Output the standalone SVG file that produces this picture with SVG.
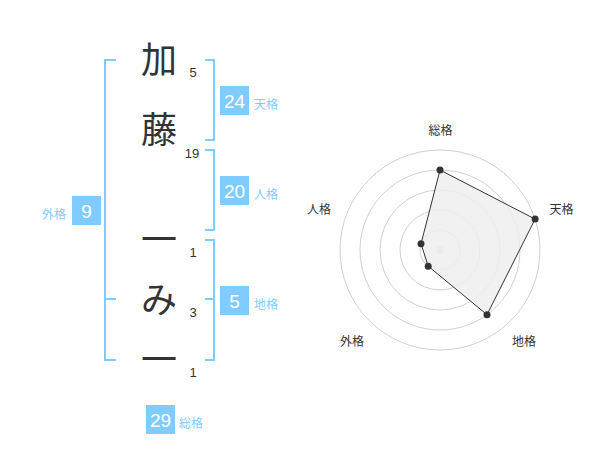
<svg xmlns="http://www.w3.org/2000/svg" width="600" height="470" viewBox="0 0 600 470">
<style>
.br{fill:none;stroke:#80ccff;stroke-width:2}
.box{fill:#80ccff}
.bn{font-family:"Liberation Sans",Arial,sans-serif;font-size:19px;fill:#fff;text-anchor:middle}
.bl{font-family:"Noto Sans CJK JP","Noto Sans",sans-serif;font-size:12px;fill:#80ccff}
.ch{font-family:"Noto Sans CJK JP",sans-serif;font-size:36px;fill:#333;text-anchor:middle}
.sn{font-family:"Liberation Sans",Arial,sans-serif;font-size:13px;fill:#333;text-anchor:middle}
.rl{font-family:"Noto Sans CJK JP","Noto Sans",sans-serif;font-size:12px;fill:#333;text-anchor:middle}
.ring{fill:none;stroke:#d0d0d0;stroke-width:1}
.pt{fill:#333}
</style>
<rect width="600" height="470" fill="#fff"/>
<g id="connectors">
<path class="br" d="M116,60 H105 V360 H116 M105,299 H116"/>
<path class="br" d="M205,60 H214 V140 H205"/>
<path class="br" d="M205,150 H214 V230 H205"/>
<path class="br" d="M205,240 H214 V360 H205 M205,299 H214"/>
</g>
<g id="char-ka"><text class="ch" x="159" y="73">加</text><text class="sn" x="193" y="77">5</text></g>
<g id="char-tou"><text class="ch" x="159" y="143">藤</text><text class="sn" x="192" y="158">19</text></g>
<g id="char-ichi1"><text class="ch" x="159" y="253">一</text><text class="sn" x="193" y="257">1</text></g>
<g id="char-mi"><text class="ch" x="159" y="313">み</text><text class="sn" x="193" y="317">3</text></g>
<g id="char-ichi2"><text class="ch" x="159" y="373">一</text><text class="sn" x="193" y="377">1</text></g>
<g id="tenkaku"><rect class="box" x="220" y="86" width="29" height="29"/><text class="bn" x="234.5" y="108">24</text><text class="bl" x="254" y="109">天格</text></g>
<g id="jinkaku"><rect class="box" x="220" y="176" width="29" height="29"/><text class="bn" x="234.5" y="198">20</text><text class="bl" x="254" y="199">人格</text></g>
<g id="chikaku"><rect class="box" x="220" y="286" width="29" height="29"/><text class="bn" x="234.5" y="308">5</text><text class="bl" x="254" y="309">地格</text></g>
<g id="gaikaku"><rect class="box" x="72" y="196" width="29" height="29"/><text class="bn" x="86.5" y="218">9</text><text class="bl" x="66" y="219" text-anchor="end">外格</text></g>
<g id="soukaku"><rect class="box" x="146" y="405" width="29" height="29"/><text class="bn" x="160.5" y="427">29</text><text class="bl" x="179" y="428">総格</text></g>
<g id="radar">
<circle class="ring" cx="440" cy="250" r="20"/>
<circle class="ring" cx="440" cy="250" r="40"/>
<circle class="ring" cx="440" cy="250" r="60"/>
<circle class="ring" cx="440" cy="250" r="80"/>
<circle class="ring" cx="440" cy="250" r="100"/>
<circle cx="440" cy="250" r="3.5" fill="#ccc"/>
<polygon points="440,170 535.1,219.1 487,314.7 428.2,266.2 421,243.8" fill="#eeeeee" fill-opacity="0.85" stroke="#333" stroke-width="1"/>
<circle class="pt" cx="440" cy="170" r="3.5"/>
<circle class="pt" cx="535.1" cy="219.1" r="3.5"/>
<circle class="pt" cx="487" cy="314.7" r="3.5"/>
<circle class="pt" cx="428.2" cy="266.2" r="3.5"/>
<circle class="pt" cx="421" cy="243.8" r="3.5"/>
<text class="rl" x="440.5" y="134.5">総格</text>
<text class="rl" x="561.5" y="213.5">天格</text>
<text class="rl" x="524" y="346">地格</text>
<text class="rl" x="352" y="346">外格</text>
<text class="rl" x="319" y="213.5">人格</text>
</g>
</svg>
